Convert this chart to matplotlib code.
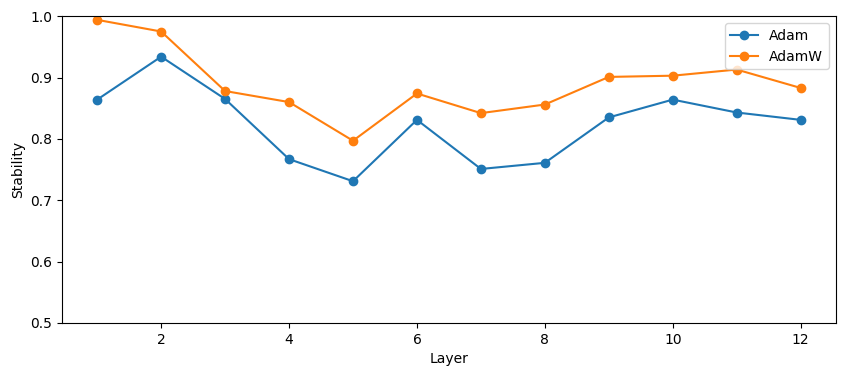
import matplotlib.pyplot as plt

# ── 資料 ──────────────────────────────────────────────────────────────────
layers = list(range(1, 13))
adam   = [0.864, 0.934, 0.865, 0.767, 0.731, 0.831, 0.751, 0.761, 0.835, 0.864, 0.843, 0.831]
adamw  = [0.994, 0.975, 0.878, 0.860, 0.797, 0.874, 0.842, 0.856, 0.901, 0.903, 0.913, 0.883]

# ── 繪圖 ──────────────────────────────────────────────────────────────────
fig, ax = plt.subplots(figsize=(8.46, 3.76), dpi=100)
ax.plot(layers, adam, marker='o', label='Adam')
ax.plot(layers, adamw, marker='o', label='AdamW')
ax.set_ylim(0.5, 1.0)
ax.set_xlabel('Layer')
ax.set_ylabel('Stability')
ax.legend(loc='upper right')
fig.subplots_adjust(left=0.0733, right=0.988, top=0.957, bottom=0.141)
plt.savefig('out.png', dpi=100)
